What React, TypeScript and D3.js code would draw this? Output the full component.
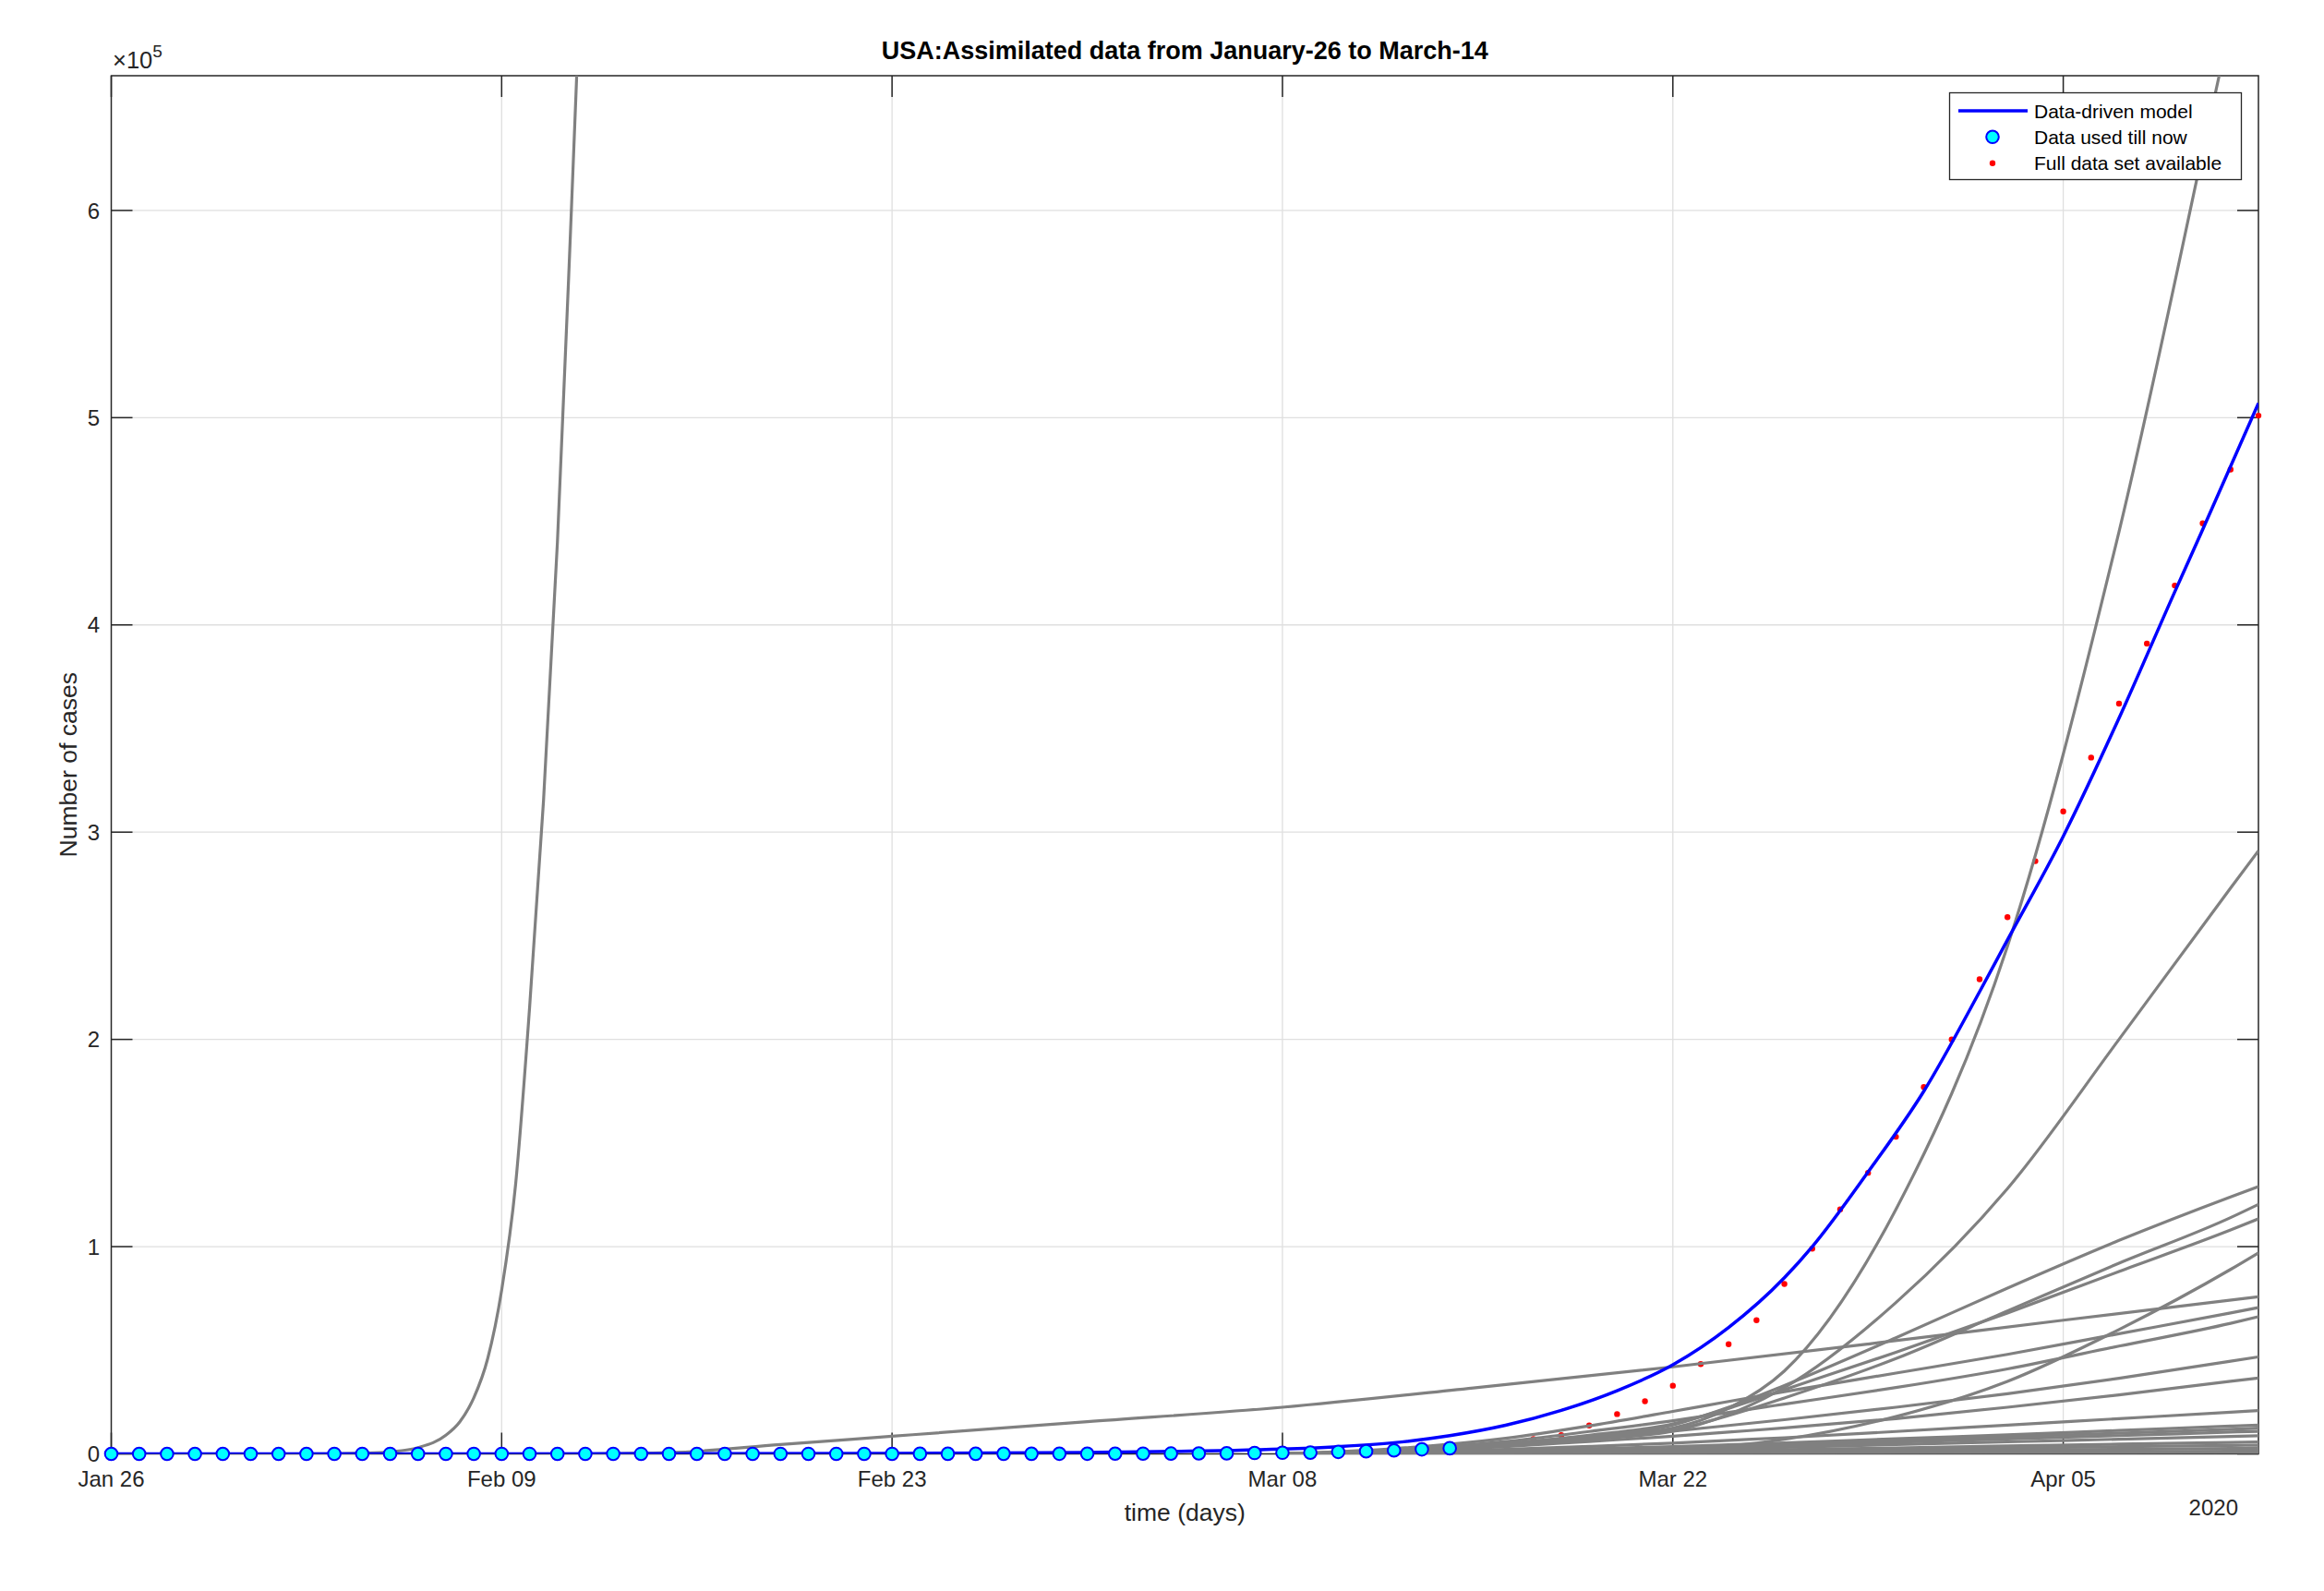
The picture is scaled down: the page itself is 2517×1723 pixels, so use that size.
import * as d3 from "d3";

const W = 2517;
const H = 1723;
const M = { left: 120.5, right: 2446, top: 82, bottom: 1574.5 };

const START = Date.UTC(2020, 0, 26);
const day = (d: number) => new Date(START + d * 86400000);

// tick labels
const xTickDates = ["2020-01-26", "2020-02-09", "2020-02-23", "2020-03-08", "2020-03-22", "2020-04-05"];
const yTicks = [0, 1, 2, 3, 4, 5, 6]; // x 10^5
const yearLabel = "2020";

// cumulative US cases (thousands), one per day from Jan 26 to Apr 12
const fullData = [
  0.005, 0.005, 0.005, 0.005, 0.006, 0.007,
  0.008, 0.008, 0.011, 0.011, 0.012, 0.012, 0.012, 0.012, 0.012, 0.012, 0.013, 0.013, 0.014, 0.014,
  0.014, 0.014, 0.014, 0.014, 0.014, 0.014, 0.016, 0.016, 0.016, 0.053, 0.053, 0.059, 0.06, 0.062, 0.07,
  0.076, 0.101, 0.122, 0.153, 0.221, 0.278, 0.417, 0.537, 0.605, 0.959, 1.281, 1.663, 2.179, 2.726,
  3.5, 4.6, 7.1, 9.0, 13.7, 19.2, 25.4, 32.9, 43.3, 52.9, 64.5, 82, 99, 118, 135.6, 153, 177, 200,
  229, 259, 286, 310, 336, 362, 391, 419, 449, 475, 501,
];
const usedCount = 49; // Jan 26 .. Mar 14

// data-driven model (thousands)
const modelDays = [0, 14, 21, 28, 35, 42, 44, 46, 48, 50, 52, 54, 56, 58, 60, 61, 63, 65, 67, 68, 70, 72, 74, 75, 77];
const modelCases = [0, 0.02, 0.08, 0.25, 0.7, 2.3, 3.5, 5.4, 8.8, 13.8, 21, 30.5, 43, 61, 85, 100, 136, 175, 223, 248, 298, 355, 416, 446, 507];

// earlier runs of the model (thousands)
const steepDays = [0, 6, 8, 9, 10, 11, 12, 12.5, 13, 13.5, 14, 14.5, 15, 15.5, 16, 16.5, 17];
const steepCases = [0, 0, 0.12, 0.35, 1, 3, 9, 15.5, 27, 46, 79, 130, 215, 315, 440, 600, 770];

const slowDays = [17, 20, 24, 28, 35, 42, 49, 56, 63, 70, 77];
const slowCases = [0, 0.6, 4.5, 8.5, 15.5, 22.5, 32, 42, 53, 64.5, 75.8];

const runDays = [42, 46, 50, 53, 56, 58, 60, 64, 68, 72, 76, 77];
const runs = [
  [0, 1.5, 5, 8.5, 12.5, 22, 40, 118, 245, 445, 690, 750],
  [0, 1.2, 4, 7, 11, 19, 32, 73, 128, 200, 273, 291],
  [0, 1.5, 4.5, 8, 14, 22.5, 33, 56, 80, 103, 124, 129],
  [0, 1.2, 4, 7, 11.5, 18.5, 27, 46, 69, 92, 114, 120.4],
  [0, 1.5, 5, 9, 14.5, 22, 31, 49, 68, 88, 108, 113.4],
  [0, 0.2, 0.6, 1.2, 2, 3.8, 7, 18, 35, 60, 89, 97],
  [0, 2.5, 7.5, 13.5, 20.5, 25.3, 30, 39, 48, 58, 68, 70.6],
  [0, 2, 6, 10.8, 16, 20, 24, 32, 41, 52, 63, 66.2],
  [0, 1.5, 4.5, 7.5, 11, 13.7, 16.5, 22.5, 29, 36.5, 44.7, 46.8],
  [0, 1.2, 3.5, 6, 8.5, 10.5, 12.5, 17, 22.5, 28.5, 35, 36.6],
  [0, 0.8, 2.2, 3.6, 5.2, 6.5, 7.8, 10.8, 13.9, 17, 20.1, 20.9],
  [0, 0.6, 1.5, 2.5, 3.5, 4.4, 5.3, 7.3, 9.2, 11.3, 13.4, 13.9],
  [0, 0.5, 1.3, 2.1, 3, 3.85, 4.7, 6.4, 8.2, 10, 11.9, 12.4],
  [0, 0.4, 1.1, 1.8, 2.6, 3.35, 4.1, 5.6, 7.2, 8.8, 10.5, 10.9],
  [0, 0.3, 0.8, 1.4, 2, 2.6, 3.2, 4.5, 5.8, 7.1, 8.4, 8.7],
  [0, 0.2, 0.5, 0.9, 1.3, 1.7, 2.1, 2.9, 3.8, 4.7, 5.5, 5.7],
  [0, 0.15, 0.4, 0.7, 1, 1.3, 1.6, 2.2, 2.8, 3.5, 4.05, 4.2],
  [0, 0.1, 0.25, 0.45, 0.65, 0.82, 1, 1.4, 1.8, 2.2, 2.6, 2.7],
  [0, 0.05, 0.12, 0.22, 0.32, 0.4, 0.48, 0.66, 0.85, 1.05, 1.25, 1.3],
  [0, 0.02, 0.06, 0.1, 0.15, 0.18, 0.22, 0.3, 0.4, 0.5, 0.58, 0.6],
];

const legendItems = ["Data-driven model", "Data used till now", "Full data set available"];

const FONT = "'Liberation Sans', Arial, Helvetica, sans-serif";
const AXIS = "#262626";

export default function App() {
  const x = d3.scaleUtc().domain([day(0), day(77)]).range([M.left, M.right]);
  const y = d3.scaleLinear().domain([0, 665000]).range([M.bottom, M.top]);

  const line = d3
    .line<[number, number]>()
    .x((p) => x(day(p[0])))
    .y((p) => y(p[1] * 1000))
    .curve(d3.curveMonotoneX);

  const zip = (ds: number[], vs: number[]) => ds.map((d, i) => [d, vs[i]] as [number, number]);
  const fmt = d3.utcFormat("%b %d");
  const xTicks = xTickDates.map((s) => new Date(s + "T00:00:00Z"));
  const tick = 23;

  return (
    <svg
      width={W}
      height={H}
      style={{ position: "absolute", left: 0, top: 0, background: "#fff", fontFamily: FONT }}
    >
      <defs>
        <clipPath id="plot">
          <rect x={M.left} y={M.top} width={M.right - M.left} height={M.bottom - M.top} />
        </clipPath>
      </defs>
      <rect width={W} height={H} fill="#fff" />

      {/* grid */}
      <g stroke="#dfdfdf" strokeWidth={1.3}>
        {xTicks.slice(1).map((t, i) => (
          <line key={i} x1={x(t)} x2={x(t)} y1={M.top} y2={M.bottom} />
        ))}
        {yTicks.slice(1).map((t) => (
          <line key={t} x1={M.left} x2={M.right} y1={y(t * 1e5)} y2={y(t * 1e5)} />
        ))}
      </g>

      {/* box and ticks */}
      <g stroke={AXIS} strokeWidth={1.5} fill="none">
        <rect x={M.left} y={M.top} width={M.right - M.left} height={M.bottom - M.top} />
        {xTicks.map((t, i) => (
          <g key={i}>
            <line x1={x(t)} x2={x(t)} y1={M.bottom} y2={M.bottom - tick} />
            <line x1={x(t)} x2={x(t)} y1={M.top} y2={M.top + tick} />
          </g>
        ))}
        {yTicks.map((t) => (
          <g key={t}>
            <line x1={M.left} x2={M.left + tick} y1={y(t * 1e5)} y2={y(t * 1e5)} />
            <line x1={M.right} x2={M.right - tick} y1={y(t * 1e5)} y2={y(t * 1e5)} />
          </g>
        ))}
      </g>

      {/* tick labels */}
      <g fill={AXIS} fontSize={24}>
        {xTicks.map((t, i) => (
          <text key={i} x={x(t)} y={1610} textAnchor="middle">
            {fmt(t)}
          </text>
        ))}
        {yTicks.map((t) => (
          <text key={t} x={108} y={y(t * 1e5)} dy="0.36em" textAnchor="end">
            {t}
          </text>
        ))}
        <text x={2424} y={1641} textAnchor="end">
          {yearLabel}
        </text>
        <text x={122} y={73.5} fontSize={25.5}>
          ×10
          <tspan dy={-12} fontSize={19}>5</tspan>
        </text>
      </g>

      {/* labels */}
      <text x={(M.left + M.right) / 2} y={63.5} textAnchor="middle" fontSize={27} fontWeight="bold" fill="#000">
        USA:Assimilated data from January-26 to March-14
      </text>
      <text x={(M.left + M.right) / 2} y={1647} textAnchor="middle" fontSize={26.5} fill={AXIS}>
        time (days)
      </text>
      <text
        transform={`translate(83,${(M.top + M.bottom) / 2}) rotate(-90)`}
        textAnchor="middle"
        fontSize={26.5}
        fill={AXIS}
      >
        Number of cases
      </text>

      {/* full data */}
      <g fill="#ff0000">
        {fullData.map((v, i) => (
          <circle key={i} cx={x(day(i))} cy={y(v * 1000)} r={3.2} />
        ))}
      </g>

      {/* ensemble runs */}
      <g clipPath="url(#plot)" fill="none" stroke="#808080" strokeWidth={3.2}>
        <path d={line(zip(steepDays, steepCases)) ?? ""} />
        <path d={line(zip(slowDays, slowCases)) ?? ""} />
        {runs.map((r, i) => (
          <path key={i} d={line(zip(runDays, r)) ?? ""} />
        ))}
      </g>

      {/* model */}
      <path
        clipPath="url(#plot)"
        d={line(zip(modelDays, modelCases)) ?? ""}
        fill="none"
        stroke="#0000ff"
        strokeWidth={3.5}
      />

      {/* data used */}
      <g fill="#00ffff" stroke="#0000ff" strokeWidth={2}>
        {fullData.slice(0, usedCount).map((v, i) => (
          <circle key={i} cx={x(day(i))} cy={y(v * 1000)} r={6.8} />
        ))}
      </g>

      {/* legend */}
      <g>
        <rect x={2111.5} y={100.5} width={316} height={94} fill="#fff" stroke={AXIS} strokeWidth={1.3} />
        <line x1={2121} x2={2196} y1={120} y2={120} stroke="#0000ff" strokeWidth={3.5} />
        <circle cx={2158} cy={148.3} r={6.8} fill="#00ffff" stroke="#0000ff" strokeWidth={2} />
        <circle cx={2158} cy={176.7} r={3.2} fill="#ff0000" />
        {legendItems.map((t, i) => (
          <text key={t} x={2203} y={120 + i * 28.35} dy="0.36em" fontSize={21} fill="#000">
            {t}
          </text>
        ))}
      </g>
    </svg>
  );
}
